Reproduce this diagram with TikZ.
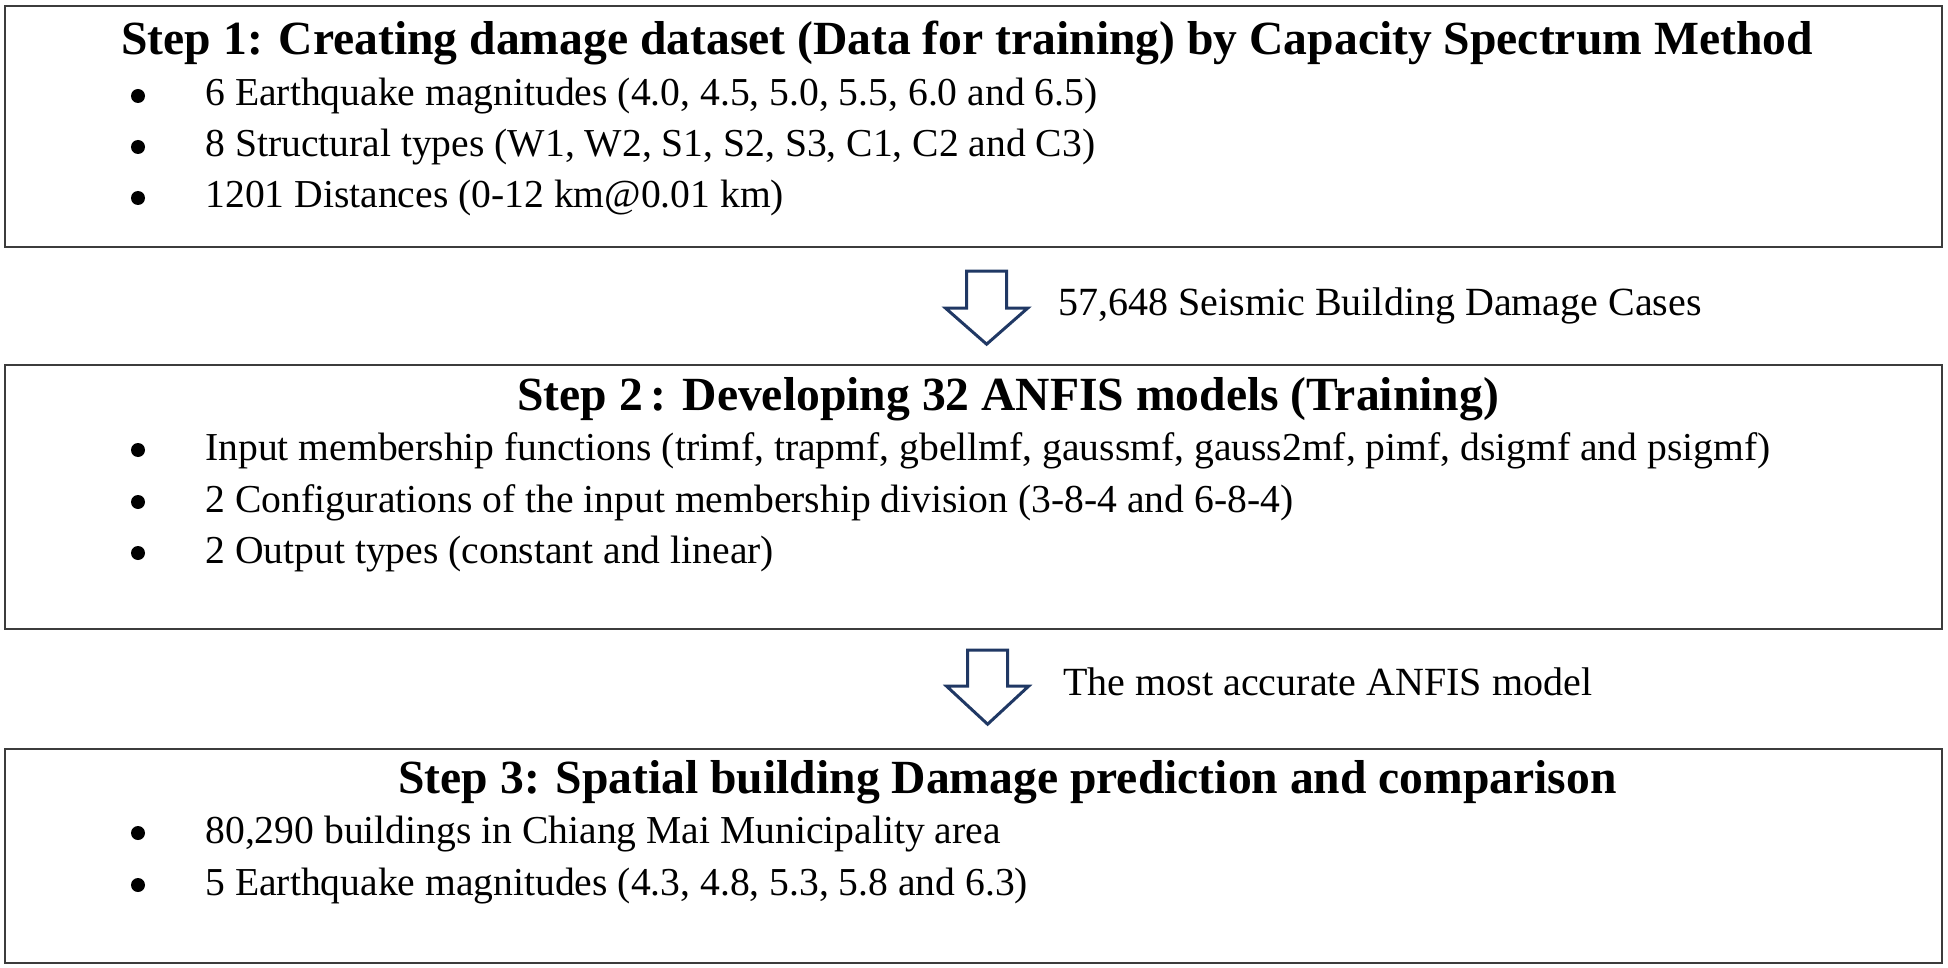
\documentclass[tikz,border=0pt]{standalone}
\usepackage{fontspec}
\setmainfont{Liberation Serif}
\usetikzlibrary{calc}
\definecolor{navy}{RGB}{32,56,100}
\definecolor{boxline}{RGB}{60,60,60}
\tikzset{
  stepbox/.style={draw=boxline, line width=1.1pt, fill=none, inner sep=0pt, anchor=north west, minimum width=968.5pt},
  head/.style={anchor=base west, inner sep=0pt, font=\fontsize{23.8pt}{28pt}\selectfont\bfseries},
  item/.style={anchor=base west, inner sep=0pt, font=\fontsize{19.8pt}{24pt}\selectfont},
  lab/.style={anchor=base west, inner sep=0pt, font=\fontsize{20pt}{24pt}\selectfont},
  bul/.style={circle, fill=black, inner sep=0pt, minimum size=7pt},
  blockarrow/.style={draw=navy, line width=1.5pt, line join=miter, fill=white}
}
\begin{document}
\begin{tikzpicture}[x=0.5pt,y=-0.5pt]
\useasboundingbox (0,0) rectangle (1948,968);
% boxes
\node[stepbox, minimum height=120.5pt] (s1) at (4,5) {};
\node[stepbox, minimum height=132pt] (s2) at (4,364) {};
\node[stepbox, minimum height=107pt] (s3) at (4,748) {};
% step 1
\node[head] (h1) at (121,55) {Step 1: Creating damage dataset (Data for training) by Capacity Spectrum Method};
\node[bul] (b11) at (138,96) {};
\node[item] (t11) at (205,106) {6 Earthquake magnitudes (4.0, 4.5, 5.0, 5.5, 6.0 and 6.5)};
\node[bul] (b12) at (138,147) {};
\node[item] (t12) at (205,157) {8 Structural types (W1, W2, S1, S2, S3, C1, C2 and C3)};
\node[bul] (b13) at (138,198) {};
\node[item] (t13) at (205,208) {1201 Distances (0-12 km@0.01 km)};
% arrow 1
\coordinate (a1) at ($(s1.south west)!0.5!(s1.south east)+(13,23)$);
\draw[blockarrow] ($(a1)+(-20,0)$) -- ($(a1)+(-20,37)$) -- ($(a1)+(-41,37)$) -- ($(a1)+(0,73)$) -- ($(a1)+(41,37)$) -- ($(a1)+(20,37)$) -- ($(a1)+(20,0)$) -- cycle;
\node[lab] (l1) at (1058,315) {57,648 Seismic Building Damage Cases};
% step 2
\node[head] (h2) at (517,410) {Step 2\,: Developing 32 ANFIS models (Training)};
\node[bul] (b21) at (138,450) {};
\node[item] (t21) at (205,460) {Input membership functions (trimf, trapmf, gbellmf, gaussmf, gauss2mf, pimf, dsigmf and psigmf)};
\node[bul] (b22) at (138,502) {};
\node[item] (t22) at (205,512) {2 Configurations of the input membership division (3-8-4 and 6-8-4)};
\node[bul] (b23) at (138,553) {};
\node[item] (t23) at (205,563) {2 Output types (constant and linear)};
% arrow 2
\coordinate (a2) at ($(s2.south west)!0.5!(s2.south east)+(14,20)$);
\draw[blockarrow] ($(a2)+(-20,0)$) -- ($(a2)+(-20,36)$) -- ($(a2)+(-41,36)$) -- ($(a2)+(0,74)$) -- ($(a2)+(41,36)$) -- ($(a2)+(20,36)$) -- ($(a2)+(20,0)$) -- cycle;
\node[lab] (l2) at (1063,695) {The most accurate ANFIS model};
% step 3
\node[head] (h3) at (398,793) {Step 3: Spatial building Damage prediction and comparison};
\node[bul] (b31) at (138,833) {};
\node[item] (t31) at (205,843) {80,290 buildings in Chiang Mai Municipality area};
\node[bul] (b32) at (138,885) {};
\node[item] (t32) at (205,895) {5 Earthquake magnitudes (4.3, 4.8, 5.3, 5.8 and 6.3)};
\end{tikzpicture}
\end{document}
